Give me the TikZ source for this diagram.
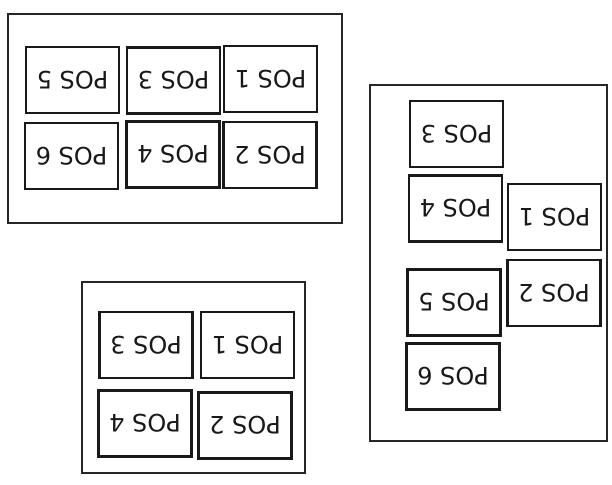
\documentclass[tikz,border=0pt]{standalone}
\usepackage{fontspec}
\setmainfont{DejaVu Sans}
\begin{document}
\begin{tikzpicture}[x=1pt,y=-1pt,
  frame/.style={draw=black!85,line width=1.5pt,inner sep=0pt},
  posbox/.style={draw=black!90,line width=2.2pt,minimum width=93pt,minimum height=66pt,inner sep=0pt,
    rotate=180,font=\fontsize{24}{24}\selectfont,text=black!90}]
\useasboundingbox (0,0) rectangle (612,484);
% frame A (top-left)
\node[frame,minimum width=334pt,minimum height=209pt] (fa) at (175,118.5) {};
\node[posbox] (a5) at (72.5,80) {POS 5};
\node[posbox] (a3) at (173.5,80.5) {POS 3};
\node[posbox] (a1) at (270.5,79) {POS 1};
\node[posbox] (a6) at (71.5,156) {POS 6};
\node[posbox] (a4) at (173,154.5) {POS 4};
\node[posbox] (a2) at (270,155) {POS 2};
% frame B (right)
\node[frame,minimum width=237pt,minimum height=356pt] (fb) at (488.5,263) {};
\node[posbox] (b3) at (456.5,134) {POS 3};
\node[posbox] (b4) at (455.5,208.5) {POS 4};
\node[posbox] (b1) at (554.5,217) {POS 1};
\node[posbox] (b2) at (554,293) {POS 2};
\node[posbox] (b5) at (454,302.5) {POS 5};
\node[posbox] (b6) at (453,376.5) {POS 6};
% frame C (bottom)
\node[frame,minimum width=223pt,minimum height=191pt] (fc) at (193.5,377.5) {};
\node[posbox] (c3) at (146,345) {POS 3};
\node[posbox] (c1) at (247.5,345) {POS 1};
\node[posbox] (c4) at (145,423.5) {POS 4};
\node[posbox] (c2) at (245,425.5) {POS 2};
\end{tikzpicture}
\end{document}
